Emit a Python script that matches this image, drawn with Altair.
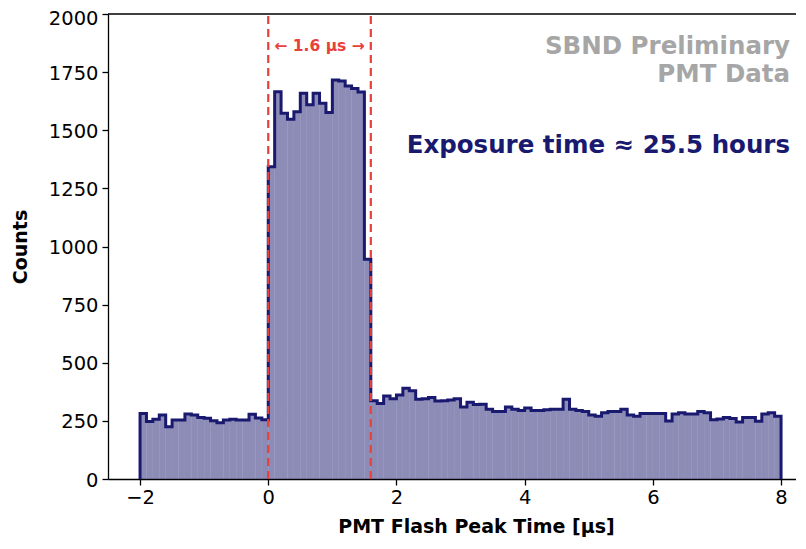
import altair as alt
import pandas as pd

# Histogram bin left edges: -2.0 ... 7.9, width 0.1 µs
bin_width = 0.1
bin_start = -2.0
counts = [
    282, 247, 257, 275, 225, 254, 254, 280, 275, 265,
    261, 251, 242, 254, 257, 254, 254, 278, 262, 255,
    1343, 1666, 1573, 1547, 1580, 1659, 1610, 1659, 1616, 1576,
    1716, 1712, 1690, 1680, 1665, 945, 337, 325, 357, 345,
    361, 390, 380, 343, 345, 351, 335, 337, 340, 345,
    310, 330, 320, 322, 300, 290, 290, 310, 300, 295,
    305, 295, 295, 298, 300, 300, 343, 300, 295, 290,
    275, 270, 285, 290, 290, 300, 275, 270, 282, 282,
    282, 282, 250, 280, 285, 280, 280, 290, 285, 255,
    258, 265, 260, 245, 265, 265, 248, 280, 285, 270,
]
edges = [round(bin_start + i * bin_width, 2) for i in range(len(counts) + 1)]

window_lines = [0.0, 1.6]
y_ticks = list(range(0, 2001, 250))
x_ticks = [-2, 0, 2, 4, 6, 8]

# step outline points (histtype="step" style, dropping to 0 at both ends)
xs = [edges[0]] + edges[:-1] + [edges[-1], edges[-1]]
ys = [0] + counts + [counts[-1], 0]
step_df = pd.DataFrame({"t": xs, "c": ys, "o": list(range(len(xs)))})

NAVY = "#191970"
RED = "#e8403a"
FONT = "DejaVu Sans"
W, H = 688, 465
PX_PER_US = 64.1
XDOM = [-2.5, -2.5 + W / PX_PER_US]

xscale = alt.Scale(domain=XDOM, nice=False, zero=False)
yscale = alt.Scale(domain=[0, 2000], nice=False)

common_axis = dict(
    grid=False, labelFont=FONT, titleFont=FONT, labelFontSize=19.5,
    titleFontSize=19, titleFontWeight="bold", labelColor="black",
    titleColor="black", domainColor="black", tickColor="black",
    domainWidth=1.3, tickWidth=1.3, tickSize=6, format="d",
)
xaxis = alt.Axis(values=x_ticks, title="PMT Flash Peak Time [µs]",
                 labelPadding=3, titlePadding=11, titleX=368, titleAlign="center",
                 **common_axis)
yaxis = alt.Axis(values=y_ticks, title="Counts",
                 labelOffset={"condition": {"test": "datum.value === 2000", "value": 4}, "value": 1},
                 labelPadding=4, titlePadding=18, **common_axis)

area = alt.Chart(step_df).mark_area(
    interpolate="step-after", color=NAVY, opacity=0.5
).encode(
    x=alt.X("t:Q", scale=xscale, axis=xaxis),
    y=alt.Y("c:Q", scale=yscale, axis=yaxis),
    order="o:Q",
)
line = alt.Chart(step_df).mark_line(
    interpolate="step-after", color=NAVY, strokeWidth=3
).encode(
    x=alt.X("t:Q", scale=xscale),
    y=alt.Y("c:Q", scale=yscale),
    order="o:Q",
)

vl_df = pd.DataFrame({"t": window_lines, "lo": [0, 0], "hi": [2000, 2000]})
vlines = alt.Chart(vl_df).mark_rule(
    color=RED, strokeWidth=2.2, strokeDash=[8, 5]
).encode(
    x=alt.X("t:Q", scale=xscale),
    y=alt.Y("lo:Q", scale=yscale),
    y2="hi:Q",
)

top_spine = alt.Chart(pd.DataFrame({"a": [0]})).mark_rule(
    color="black", strokeWidth=1.3
).encode(x=alt.value(0), x2=alt.value(W), y=alt.value(0))

ann_df = pd.DataFrame({
    "t": [0.8],
    "c": [1842],
    "label": ["\u2190 1.6 \u00b5s \u2192"],
})
ann = alt.Chart(ann_df).mark_text(
    color=RED, fontSize=15.5, fontWeight="bold", font=FONT,
    align="center", baseline="alphabetic"
).encode(x=alt.X("t:Q", scale=xscale), y=alt.Y("c:Q", scale=yscale), text="label:N")

gray_df = pd.DataFrame({
    "t": [8.14, 8.14],
    "c": [1826, 1706],
    "label": ["SBND Preliminary", "PMT Data"],
})
gray = alt.Chart(gray_df).mark_text(
    color="#a6a6a6", fontSize=24.5, fontWeight="bold", font=FONT,
    align="right", baseline="alphabetic"
).encode(x=alt.X("t:Q", scale=xscale), y=alt.Y("c:Q", scale=yscale), text="label:N")

exp_df = pd.DataFrame({"t": [8.14], "c": [1404], "label": ["Exposure time \u2248 25.5 hours"]})
exp = alt.Chart(exp_df).mark_text(
    color=NAVY, fontSize=24.5, fontWeight="bold", font=FONT,
    align="right", baseline="alphabetic"
).encode(x=alt.X("t:Q", scale=xscale), y=alt.Y("c:Q", scale=yscale), text="label:N")

chart = alt.layer(area, line, vlines, top_spine, ann, gray, exp).properties(
    width=W, height=H,
    background="white",
    autosize=alt.AutoSizeParams(type="none"),
    padding={"left": 100, "top": 6, "right": 0, "bottom": 60},
).configure_view(stroke=None)

chart.save("out.html", embed_options={"renderer": "svg", "actions": False})
